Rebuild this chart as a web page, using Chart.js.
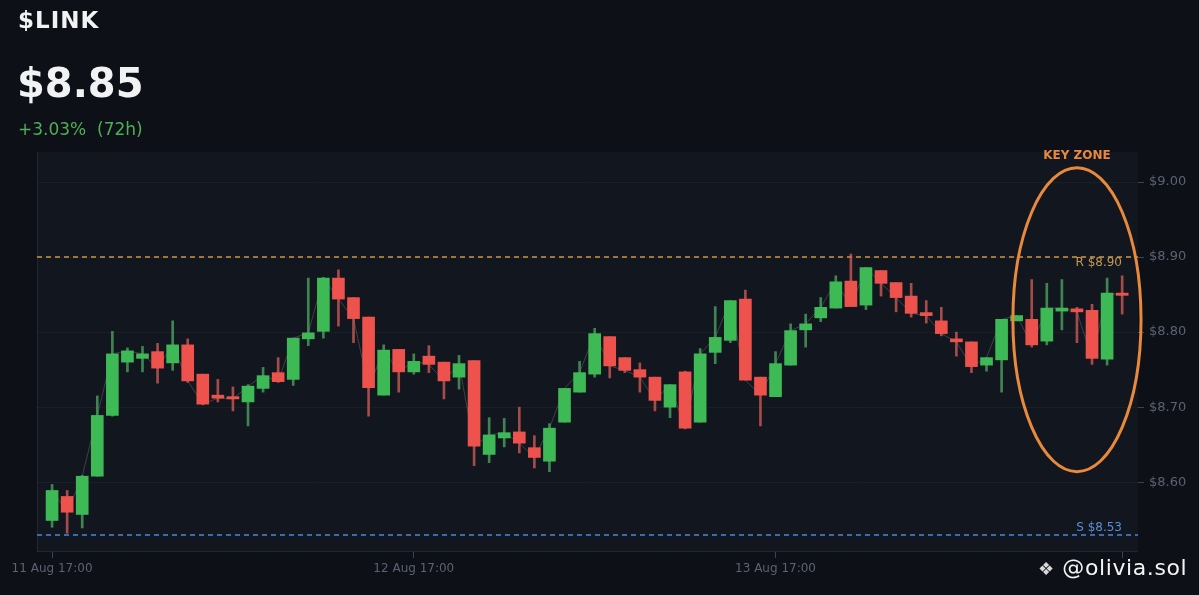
<!DOCTYPE html>
<html><head><meta charset="utf-8">
<script src="https://cdn.jsdelivr.net/npm/chart.js@4.4.1/dist/chart.umd.min.js"></script>
<style>
html,body{margin:0;padding:0;background:#0d1017;width:1199px;height:595px;overflow:hidden;font-family:"DejaVu Sans",sans-serif;}
#wrap{position:relative;width:1199px;height:595px;}
#c{position:absolute;left:0;top:0;}
.t{position:absolute;white-space:nowrap;}
#sym{left:18px;top:7px;color:#f1f2f4;font-weight:bold;font-size:23px;letter-spacing:1px;}
#price{left:17px;top:60px;color:#f1f2f4;font-weight:bold;font-size:40px;}
#chg{left:18px;top:119px;color:#4fae57;font-size:17px;}
#wm{left:1038px;top:555px;color:#f4f4f4;font-size:22px;letter-spacing:0.6px;}
</style></head>
<body><div id="wrap">
<canvas id="c" width="1199" height="595"></canvas>
<div class="t" id="sym">$LINK</div>
<div class="t" id="price">$8.85</div>
<div class="t" id="chg">+3.03%&nbsp;&nbsp;(72h)</div>
<div class="t" id="wm"><span style="font-size:18px;color:#d8d8d8">❖</span> @olivia.sol</div>
</div>
<script>
const tickIdx = [0, 24, 48, 71];
const tickLabels = ['11 Aug 17:00', '12 Aug 17:00', '13 Aug 17:00', ''];
const yTicks = [8.60, 8.70, 8.80, 8.90, 9.00];
const resistance = 8.90;
const support = 8.53;

const open = [8.549,8.581,8.557,8.608,8.689,8.760,8.765,8.774,8.759,8.783,8.744,8.716,8.714,8.707,8.725,8.746,8.737,8.791,8.801,8.872,8.846,8.820,8.716,8.777,8.747,8.768,8.760,8.740,8.762,8.637,8.659,8.667,8.646,8.628,8.680,8.720,8.744,8.794,8.766,8.750,8.740,8.700,8.747,8.680,8.773,8.789,8.844,8.740,8.714,8.756,8.803,8.819,8.832,8.868,8.836,8.882,8.866,8.848,8.826,8.815,8.791,8.787,8.756,8.763,8.815,8.817,8.788,8.828,8.831,8.829,8.764,8.852];
const high = [8.597,8.589,8.609,8.715,8.801,8.779,8.781,8.785,8.815,8.791,8.744,8.737,8.727,8.730,8.753,8.766,8.792,8.872,8.873,8.883,8.846,8.820,8.783,8.777,8.771,8.782,8.760,8.769,8.762,8.686,8.685,8.700,8.662,8.678,8.725,8.761,8.805,8.794,8.766,8.759,8.740,8.730,8.748,8.778,8.834,8.842,8.856,8.740,8.774,8.811,8.824,8.846,8.875,8.904,8.886,8.882,8.866,8.865,8.842,8.833,8.800,8.787,8.766,8.817,8.822,8.870,8.865,8.870,8.833,8.837,8.872,8.875];
const low = [8.540,8.532,8.539,8.608,8.688,8.747,8.747,8.732,8.749,8.733,8.703,8.707,8.695,8.675,8.720,8.733,8.729,8.782,8.792,8.808,8.786,8.688,8.716,8.720,8.744,8.746,8.711,8.724,8.622,8.626,8.647,8.639,8.619,8.614,8.680,8.720,8.740,8.739,8.746,8.720,8.695,8.686,8.671,8.680,8.758,8.786,8.736,8.675,8.714,8.756,8.780,8.814,8.832,8.834,8.830,8.848,8.827,8.820,8.812,8.795,8.768,8.746,8.748,8.720,8.815,8.780,8.783,8.803,8.786,8.757,8.756,8.824];
const close = [8.589,8.560,8.608,8.689,8.771,8.775,8.771,8.752,8.783,8.735,8.704,8.712,8.711,8.728,8.742,8.734,8.792,8.799,8.872,8.844,8.818,8.726,8.776,8.747,8.761,8.757,8.735,8.758,8.648,8.663,8.666,8.652,8.633,8.672,8.725,8.746,8.798,8.755,8.749,8.740,8.709,8.730,8.672,8.771,8.793,8.842,8.736,8.716,8.758,8.802,8.811,8.833,8.867,8.834,8.886,8.865,8.846,8.825,8.822,8.798,8.787,8.754,8.766,8.817,8.822,8.783,8.832,8.832,8.827,8.765,8.852,8.849];

const UP = '#3dba55', DOWN = '#ee524c';
const UPW = 'rgba(80,170,100,0.75)', DOWNW = 'rgba(215,95,90,0.75)';
const up = open.map((o, i) => close[i] >= o);

const bodies = open.map((o, i) => ({x: i, y: [o, close[i]]}));
const wicks = open.map((o, i) => ({x: i, y: [low[i], high[i]]}));
const closeLine = close.map((c, i) => ({x: i, y: c}));

const deco = {
  id: 'deco',
  beforeDraw(chart) {
    const {ctx, chartArea: a} = chart;
    ctx.save();
    ctx.fillStyle = '#12161e';
    ctx.fillRect(a.left, a.top, a.right - a.left, a.bottom - a.top);
    ctx.restore();
  },
  beforeDatasetsDraw(chart) {
    const {ctx, chartArea: a, scales: {y}} = chart;
    ctx.save();
    ctx.strokeStyle = 'rgba(255,255,255,0.07)';
    ctx.lineWidth = 1;
    ctx.beginPath();
    ctx.moveTo(a.left + 0.5, a.top); ctx.lineTo(a.left + 0.5, a.bottom);
    ctx.moveTo(a.left, a.bottom - 0.5); ctx.lineTo(a.right, a.bottom - 0.5);
    ctx.stroke();
    ctx.setLineDash([5, 4]);
    ctx.lineWidth = 1.3;
    const ry = Math.round(y.getPixelForValue(resistance));
    ctx.strokeStyle = '#cf9545';
    ctx.beginPath(); ctx.moveTo(a.left, ry); ctx.lineTo(a.right, ry); ctx.stroke();
    const sy = Math.round(y.getPixelForValue(support));
    ctx.strokeStyle = '#4a85dc';
    ctx.beginPath(); ctx.moveTo(a.left, sy); ctx.lineTo(a.right, sy); ctx.stroke();
    ctx.setLineDash([]);
    ctx.font = '12px "DejaVu Sans"';
    ctx.textAlign = 'right';
    ctx.textBaseline = 'middle';
    ctx.fillStyle = '#c29a52';
    ctx.fillText('R $8.90', 1122, ry + 6);
    ctx.fillStyle = '#5a8ed6';
    ctx.fillText('S $8.53', 1122, sy - 7);
    ctx.restore();
  },
  afterDatasetsDraw(chart) {
    const {ctx, scales: {x, y}} = chart;
    const x0 = x.getPixelForValue(63.75), x1 = x.getPixelForValue(72.25);
    const y0 = y.getPixelForValue(9.019), y1 = y.getPixelForValue(8.614);
    ctx.save();
    ctx.strokeStyle = '#e8893c';
    ctx.lineWidth = 3;
    ctx.beginPath();
    ctx.ellipse((x0 + x1) / 2, (y0 + y1) / 2, (x1 - x0) / 2, (y1 - y0) / 2, 0, 0, Math.PI * 2);
    ctx.stroke();
    ctx.fillStyle = '#e8893c';
    ctx.font = 'bold 12px "DejaVu Sans"';
    ctx.textAlign = 'center';
    ctx.textBaseline = 'middle';
    ctx.fillText('KEY ZONE', (x0 + x1) / 2, 156);
    ctx.restore();
  }
};

new Chart(document.getElementById('c'), {
  type: 'bar',
  data: {
    datasets: [
      {type: 'line', data: closeLine, borderColor: 'rgba(170,175,185,0.28)', borderWidth: 1, pointRadius: 0, order: 3},
      {data: wicks, backgroundColor: up.map(u => u ? UPW : DOWNW), barThickness: 2, grouped: false, order: 2},
      {data: bodies, backgroundColor: up.map(u => u ? UP : DOWN), barThickness: 12, minBarLength: 2, grouped: false, order: 1}
    ]
  },
  options: {
    responsive: false,
    animation: false,
    layout: {padding: {left: 37, top: 152, right: 0, bottom: 0}},
    plugins: {legend: {display: false}, tooltip: {enabled: false}},
    scales: {
      x: {
        type: 'linear', min: -1, max: 72.05, offset: false,
        afterBuildTicks: s => { s.ticks = tickIdx.map(v => ({value: v})); },
        afterFit: s => { s.height = 43; },
        grid: {drawOnChartArea: false, offset: false, tickLength: 6, tickColor: '#3c4352'},
        border: {display: false},
        ticks: {
          color: '#5b6271', font: {family: 'DejaVu Sans', size: 12}, padding: 4, maxRotation: 0, autoSkip: false,
          callback: v => tickLabels[tickIdx.indexOf(v)] ?? ''
        }
      },
      y: {
        position: 'right', min: 8.507, max: 9.04,
        afterBuildTicks: s => { s.ticks = yTicks.map(v => ({value: v})); },
        afterFit: s => { s.width = 61; },
        grid: {color: 'rgba(255,255,255,0.035)', tickLength: 6, tickColor: '#3c4352'},
        border: {display: false},
        ticks: {color: '#5b6271', font: {family: 'DejaVu Sans', size: 13}, padding: 5, callback: v => '$' + v.toFixed(2)}
      }
    }
  },
  plugins: [deco]
});
</script>
</body></html>
